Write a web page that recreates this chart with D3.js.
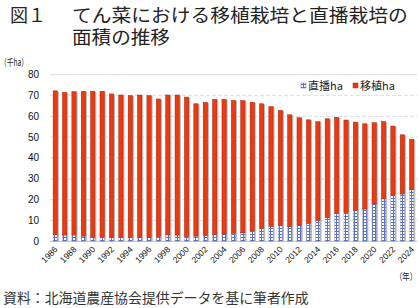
<!DOCTYPE html>
<html><head><meta charset="utf-8">
<script src="https://cdn.jsdelivr.net/npm/d3@7"></script>
<style>
body{margin:0;background:#fff;}
svg{display:block;font-family:"Liberation Sans","Noto Sans CJK JP",sans-serif;}
.jp{font-family:"Noto Sans CJK JP","Noto Sans",sans-serif;}
</style></head><body>
<svg id="c" width="420" height="308"></svg>
<script>
const years = d3.range(1986, 2025).map(String);
const direct = [3.1,3.0,3.0,2.5,2.0,2.0,2.0,1.9,1.8,1.8,1.9,2.3,3.1,3.0,2.3,2.5,2.8,3.3,3.5,3.9,4.1,5.0,6.2,7.1,7.6,7.1,7.8,8.6,10.0,11.4,13.4,13.8,14.8,15.5,17.9,20.4,22.2,22.7,24.8];
const totals = [72.2,71.5,71.8,72.0,72.0,72.0,70.7,70.2,69.9,70.2,69.9,68.3,70.2,70.2,69.2,66.0,66.7,68.1,68.1,67.6,67.5,66.7,66.0,64.6,62.8,60.7,59.3,58.3,57.4,58.8,59.5,58.2,57.2,56.4,56.9,57.5,55.3,51.1,48.9];
const transplant = totals.map((t,i)=>+(t-direct[i]).toFixed(1));
const yTicks = [0,10,20,30,40,50,60,70,80];
const xLabels = years.filter((y,i)=>i%2===0);
const seriesNames = ["直播ha","移植ha"];

const svg = d3.select("#c");
const defs = svg.append("defs");
const pat = defs.append("pattern").attr("id","grid").attr("patternUnits","userSpaceOnUse")
  .attr("width",3).attr("height",3);
pat.append("rect").attr("width",3).attr("height",3).attr("fill","#ffffff");
pat.append("rect").attr("x",0).attr("y",0).attr("width",3).attr("height",1).attr("fill","#5a6fc0");
pat.append("rect").attr("x",0).attr("y",0).attr("width",1).attr("height",3).attr("fill","#5a6fc0");

const x = d3.scaleBand().domain(years).range([50.3,416.6]).paddingInner(0.55).paddingOuter(0.3);
const y = d3.scaleLinear().domain([0,80]).range([241.3,74.6]);

// fit text: place at (x0, base) and horizontally scale to width w
function fitText(str, x0, base, size, w, fill){
  const t = svg.append("text").attr("class","jp").attr("font-size",size).attr("fill",fill).text(str);
  const nat = t.node().getComputedTextLength() || w;
  t.attr("transform",`translate(${x0},${base}) scale(${w/nat},1)`);
  return t;
}

// gridlines
svg.append("g").selectAll("line").data(yTicks).join("line")
  .attr("x1",50).attr("x2",417).attr("y1",d=>y(d)).attr("y2",d=>y(d))
  .attr("stroke",d=>d===0?"#c8c8c8":"#e2e2e2").attr("stroke-width",1.2)
  .attr("stroke-dasharray",d=>(d===0||d===80)?null:"4,2");

// y labels
svg.append("g").selectAll("text").data(yTicks).join("text")
  .attr("x",39).attr("y",d=>y(d)+3.5).attr("text-anchor","end")
  .attr("font-size",10).attr("fill","#111").text(d=>d);

const stack = years.map((yr,i)=>({yr, d:direct[i], t:transplant[i]}));
const bw = x.bandwidth();
const g = svg.append("g");
g.selectAll("rect.sh").data(stack).join("rect").attr("class","sh")
  .attr("x",d=>x(d.yr)+1.5).attr("width",bw)
  .attr("y",d=>y(d.d+d.t)+0.5).attr("height",d=>y(0)-y(d.d+d.t)-0.5)
  .attr("fill","#b9b9b9");
g.selectAll("rect.dr").data(stack).join("rect").attr("class","dr")
  .attr("x",d=>x(d.yr)).attr("width",bw)
  .attr("y",d=>y(d.d)).attr("height",d=>y(0)-y(d.d))
  .attr("fill","url(#grid)").attr("stroke","#8090c8").attr("stroke-width",0.4);
g.selectAll("rect.tr").data(stack).join("rect").attr("class","tr")
  .attr("x",d=>x(d.yr)).attr("width",bw)
  .attr("y",d=>y(d.d+d.t)).attr("height",d=>y(d.d)-y(d.d+d.t))
  .attr("fill","#ec3a10").attr("stroke","#a8200a").attr("stroke-width",0.5);

// x labels
svg.append("g").selectAll("text").data(xLabels).join("text")
  .attr("transform",d=>`translate(${x(d)+bw/2+3},${250}) rotate(-45)`)
  .attr("text-anchor","end").attr("font-size",8.5).attr("fill","#111").text(d=>d);

// axis units
fitText("（千ha）", 0, 66, 9.5, 28, "#222");
fitText("（年）", 395, 280, 9.5, 22, "#222");

// legend
const leg = [{n:seriesNames[0],x:301,f:"url(#grid)",s:"#6070b8"},{n:seriesNames[1],x:353,f:"#ec3a10",s:"#a8200a"}];
const lg = svg.append("g");
lg.selectAll("rect").data(leg).join("rect").attr("x",d=>d.x).attr("y",83).attr("width",5).attr("height",5)
  .attr("fill",d=>d.f).attr("stroke",d=>d.s).attr("stroke-width",0.5);
lg.selectAll("text").data(leg).join("text").attr("class","jp").attr("x",d=>d.x+7).attr("y",90)
  .attr("font-size",11).attr("fill","#222").text(d=>d.n);

// title
fitText("図１", 10, 22, 18, 36, "#222");
fitText("てん菜における移植栽培と直播栽培の", 72, 22, 18, 336, "#222");
fitText("面積の推移", 72, 44, 18, 98, "#222");

// source
fitText("資料：北海道農産協会提供データを基に筆者作成", 3, 303, 13.5, 306, "#333");
</script>
</body></html>
